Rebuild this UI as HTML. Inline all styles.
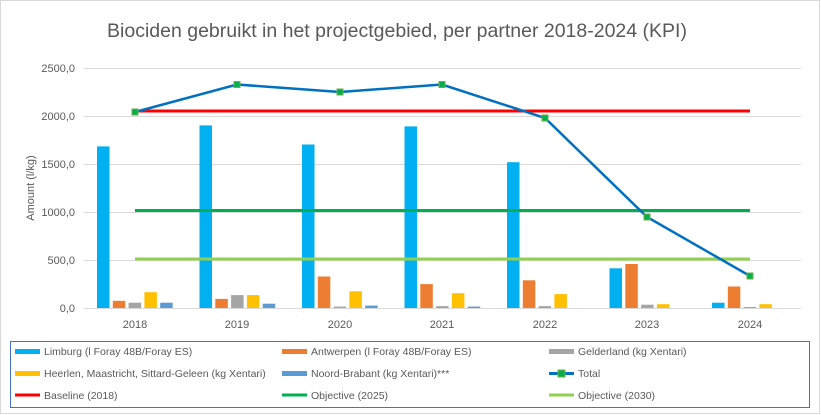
<!DOCTYPE html>
<html><head><meta charset="utf-8"><style>
body{margin:0;background:#fff;}
svg{display:block;font-family:"Liberation Sans",sans-serif;}
</style></head><body>
<svg width="821" height="415" xmlns="http://www.w3.org/2000/svg">
<rect x="0.5" y="0.5" width="819" height="413" fill="#fff" stroke="#d9d9d9"/>
<text x="397" y="37" font-size="19.5" fill="#595959" text-anchor="middle">Biociden gebruikt in het projectgebied, per partner 2018-2024 (KPI)</text>
<g stroke="#d9d9d9" stroke-width="1">
<line x1="84" x2="801" y1="308.5" y2="308.5"/>
<line x1="84" x2="801" y1="260.5" y2="260.5"/>
<line x1="84" x2="801" y1="212.5" y2="212.5"/>
<line x1="84" x2="801" y1="164.5" y2="164.5"/>
<line x1="84" x2="801" y1="116.5" y2="116.5"/>
<line x1="84" x2="801" y1="68.5" y2="68.5"/>
</g>
<g font-size="11" fill="#595959" text-anchor="end">
<text x="75" y="312">0,0</text><text x="75" y="264">500,0</text><text x="75" y="216">1000,0</text>
<text x="75" y="168">1500,0</text><text x="75" y="120">2000,0</text><text x="75" y="72">2500,0</text>
</g>
<text transform="translate(34,188) rotate(-90)" font-size="11" fill="#595959" text-anchor="middle">Amount (l/kg)</text>
<g font-size="11" fill="#595959" text-anchor="middle">
<text x="135" y="328">2018</text><text x="237" y="328">2019</text><text x="340" y="328">2020</text><text x="442" y="328">2021</text><text x="545" y="328">2022</text><text x="647" y="328">2023</text><text x="750" y="328">2024</text>
</g>
<g>
<rect x="97" y="146.4" width="12.5" height="161.6" fill="#00b0f0"/>
<rect x="112.8" y="300.8" width="12.5" height="7.2" fill="#ed7d31"/>
<rect x="128.6" y="302.7" width="12.5" height="5.3" fill="#a5a5a5"/>
<rect x="144.4" y="292.2" width="12.5" height="15.8" fill="#ffc000"/>
<rect x="160.2" y="302.7" width="12.5" height="5.3" fill="#5b9bd5"/>

<rect x="199.5" y="125.4" width="12.5" height="182.6" fill="#00b0f0"/>
<rect x="215.3" y="298.9" width="12.5" height="9.1" fill="#ed7d31"/>
<rect x="231.1" y="295.1" width="12.5" height="12.9" fill="#a5a5a5"/>
<rect x="246.9" y="295.1" width="12.5" height="12.9" fill="#ffc000"/>
<rect x="262.7" y="303.7" width="12.5" height="4.3" fill="#5b9bd5"/>

<rect x="302" y="144.5" width="12.5" height="163.5" fill="#00b0f0"/>
<rect x="317.8" y="276.5" width="12.5" height="31.5" fill="#ed7d31"/>
<rect x="333.6" y="306.6" width="12.5" height="1.4" fill="#a5a5a5"/>
<rect x="349.4" y="291.3" width="12.5" height="16.7" fill="#ffc000"/>
<rect x="365.2" y="305.6" width="12.5" height="2.4" fill="#5b9bd5"/>

<rect x="404.5" y="126.4" width="12.5" height="181.6" fill="#00b0f0"/>
<rect x="420.3" y="284.1" width="12.5" height="23.9" fill="#ed7d31"/>
<rect x="436.1" y="306.1" width="12.5" height="1.9" fill="#a5a5a5"/>
<rect x="451.9" y="293.2" width="12.5" height="14.8" fill="#ffc000"/>
<rect x="467.7" y="306.6" width="12.5" height="1.4" fill="#5b9bd5"/>

<rect x="507" y="162.2" width="12.5" height="145.8" fill="#00b0f0"/>
<rect x="522.8" y="280.3" width="12.5" height="27.7" fill="#ed7d31"/>
<rect x="538.6" y="306.1" width="12.5" height="1.9" fill="#a5a5a5"/>
<rect x="554.4" y="294.1" width="12.5" height="13.9" fill="#ffc000"/>

<rect x="609.5" y="268.3" width="12.5" height="39.7" fill="#00b0f0"/>
<rect x="625.3" y="264" width="12.5" height="44" fill="#ed7d31"/>
<rect x="641.1" y="304.7" width="12.5" height="3.3" fill="#a5a5a5"/>
<rect x="656.9" y="304.2" width="12.5" height="3.8" fill="#ffc000"/>

<rect x="712" y="302.7" width="12.5" height="5.3" fill="#00b0f0"/>
<rect x="727.8" y="286.5" width="12.5" height="21.5" fill="#ed7d31"/>
<rect x="743.6" y="307" width="12.5" height="1" fill="#a5a5a5"/>
<rect x="759.4" y="304.2" width="12.5" height="3.8" fill="#ffc000"/>
</g>
<line x1="135" x2="750" y1="111" y2="111" stroke="#ff0000" stroke-width="3"/>
<line x1="135" x2="750" y1="210.5" y2="210.5" stroke="#00b050" stroke-width="3"/>
<line x1="135" x2="750" y1="259" y2="259" stroke="#92d050" stroke-width="3"/>
<polyline fill="none" stroke="#0070c0" stroke-width="2.5" points="135,112 237,84.5 340,92 442,84.5 545,118 647,217 750,276"/>
<g fill="#00b050" stroke="#70ad47" stroke-width="1">
<rect x="132" y="109" width="6" height="6"/><rect x="234" y="81.5" width="6" height="6"/><rect x="337" y="89" width="6" height="6"/><rect x="439" y="81.5" width="6" height="6"/><rect x="542" y="115" width="6" height="6"/><rect x="644" y="214" width="6" height="6"/><rect x="747" y="273" width="6" height="6"/>
</g>
<rect x="10.5" y="341.5" width="799" height="66" fill="none" stroke="#4472c4"/>
<g font-size="10.5" fill="#595959">
<rect x="15" y="349" width="25" height="5" fill="#00b0f0"/><text x="44" y="355">Limburg (l Foray 48B/Foray ES)</text>
<rect x="282" y="349" width="25" height="5" fill="#ed7d31"/><text x="311" y="355">Antwerpen (l Foray 48B/Foray ES)</text>
<rect x="549" y="349" width="25" height="5" fill="#a5a5a5"/><text x="578" y="355">Gelderland (kg Xentari)</text>
<rect x="15" y="371" width="25" height="5" fill="#ffc000"/><text x="44" y="377">Heerlen, Maastricht, Sittard-Geleen (kg Xentari)</text>
<rect x="282" y="371" width="25" height="5" fill="#5b9bd5"/><text x="311" y="377">Noord-Brabant (kg Xentari)***</text>
<line x1="549" x2="574" y1="373.5" y2="373.5" stroke="#0070c0" stroke-width="3"/><rect x="558" y="370" width="7" height="7" fill="#00b050" stroke="#70ad47"/><text x="578" y="377">Total</text>
<line x1="15" x2="40" y1="395" y2="395" stroke="#ff0000" stroke-width="3"/><text x="44" y="399">Baseline (2018)</text>
<line x1="282" x2="307" y1="395" y2="395" stroke="#00b050" stroke-width="3"/><text x="311" y="399">Objective (2025)</text>
<line x1="549" x2="574" y1="395" y2="395" stroke="#92d050" stroke-width="3"/><text x="578" y="399">Objective (2030)</text>
</g>
</svg>
</body></html>
